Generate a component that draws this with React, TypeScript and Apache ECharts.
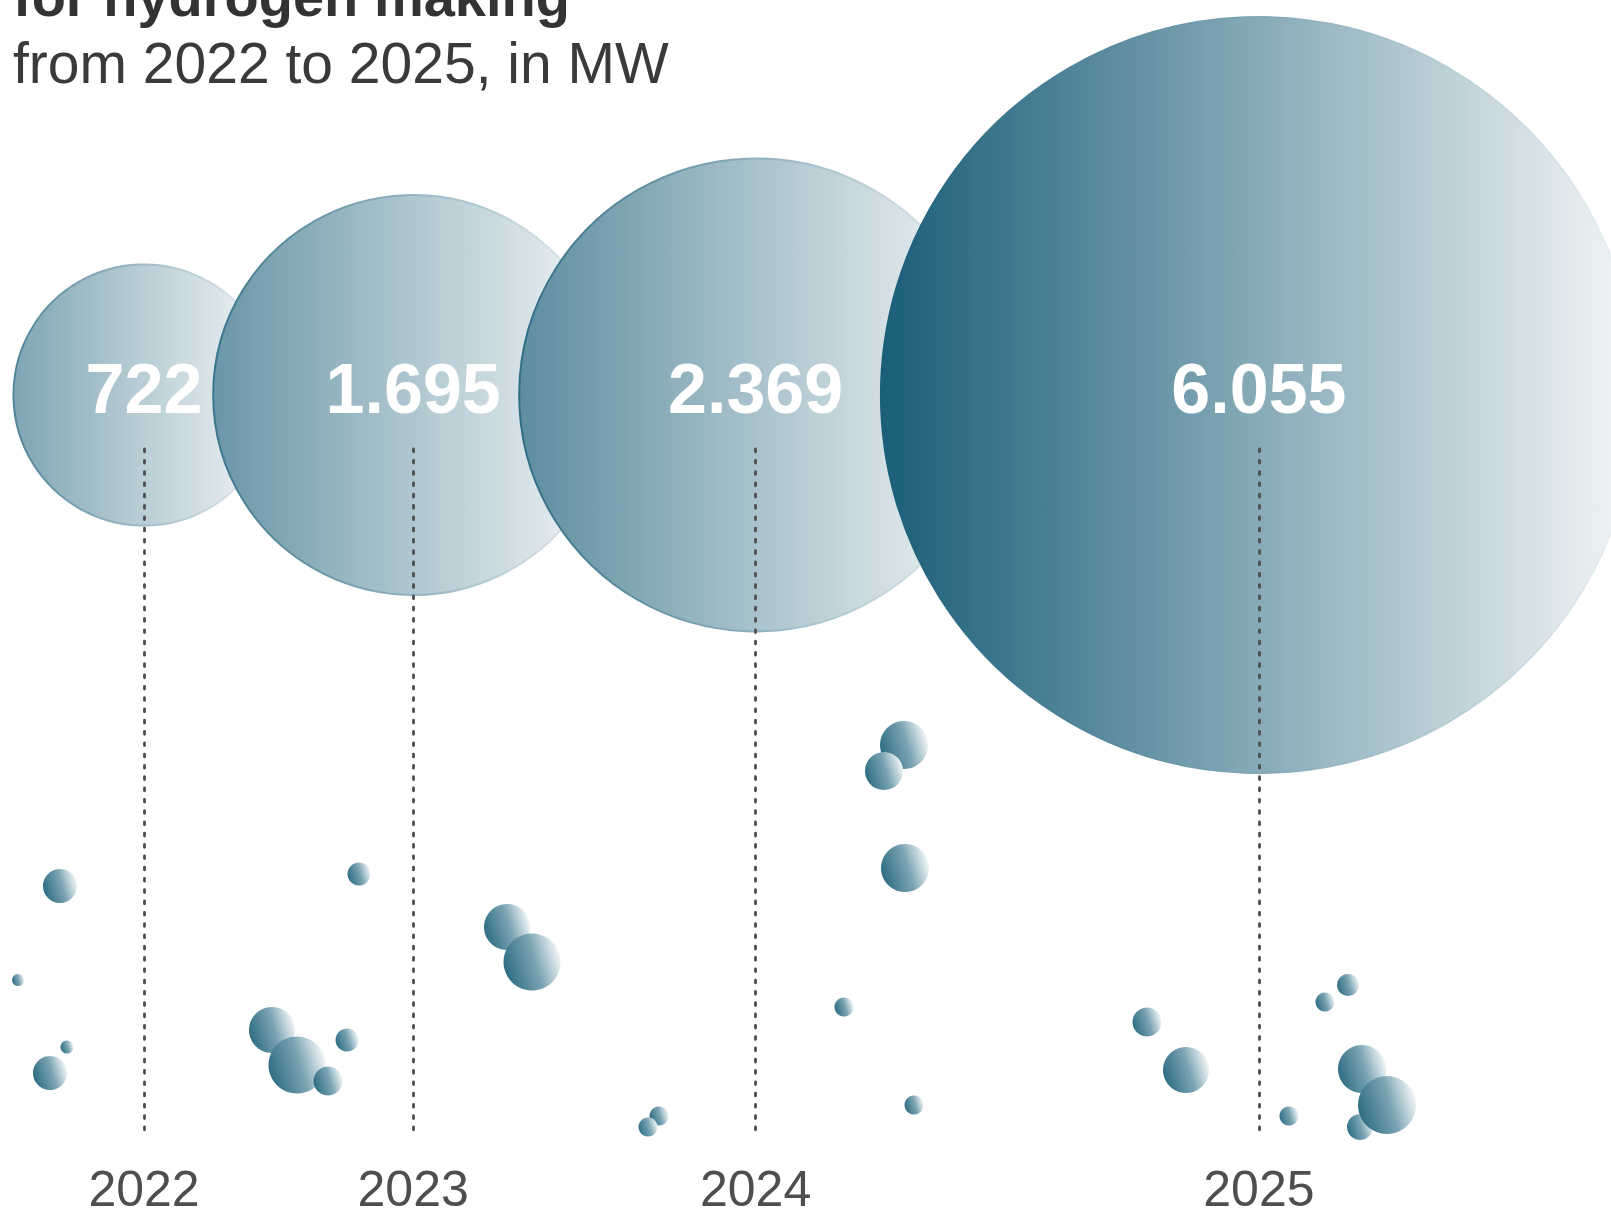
import React, { useEffect, useRef } from "react";
import * as echarts from "echarts";

// ---- data ----
const years = ["2022", "2023", "2024", "2025"];
const capacityMW = [722, 1695, 2369, 6055];

// decorative small bubbles (chart units = px of the 1611x1216 canvas)
const bubbleX = [60, 18, 67, 50, 359, 507, 532, 272, 297, 328, 347, 904, 884, 905, 844, 914, 659, 648, 1147, 1186, 1289, 1348, 1325, 1360, 1362, 1387];
const bubbleY = [886, 980, 1047, 1073, 874, 927, 962, 1030, 1065, 1081, 1040, 745, 771, 868, 1007, 1105, 1116, 1127, 1022, 1070, 1116, 985, 1002, 1127, 1069, 1105];
const bubbleR = [17, 6, 6.5, 17, 11.5, 23, 28.5, 23, 28.5, 14.5, 11.5, 24, 19, 24, 9.5, 9.5, 9.5, 9.5, 14.5, 23, 9.5, 11, 9.5, 13, 24, 29];

const titleText = "for hydrogen making";
const subtitleText = "from 2022 to 2025, in MW";

// ---- layout ----
const W = 1611;
const H = 1216;
const CY = 395;
const R_MAX = 378;
const FIRST_X = 144;
const OVERLAP = 0.47;
const LINE_TOP = 449;
const LINE_BOTTOM = 1132;
const YEAR_Y = 1189;
const BASE = [26, 94, 120];

const maxV = Math.max(...capacityMW);
const radius = (v: number) => R_MAX * Math.sqrt(v / maxV);
const fmt = (v: number) => String(v).replace(/\B(?=(\d{3})+(?!\d))/g, ".");
const tint = (a: number) => {
  const c = BASE.map((b) => Math.round(255 + (b - 255) * a));
  return `rgb(${c[0]},${c[1]},${c[2]})`;
};

export default function App() {
  const ref = useRef<HTMLDivElement>(null);

  useEffect(() => {
    document.body.style.margin = "0";
    const chart = echarts.init(ref.current as HTMLDivElement, null, {
      renderer: "svg",
      width: W,
      height: H,
    });

    const radii = capacityMW.map(radius);
    const xs: number[] = [];
    radii.forEach((r, i) => {
      if (i === 0) xs.push(FIRST_X);
      else xs.push(xs[i - 1] + radii[i - 1] + r - OVERLAP * Math.min(radii[i - 1], r));
    });

    const mainData = capacityMW.map((v, i) => {
      const a = 0.47 + 0.53 * Math.pow(v / maxV, 0.85);
      return {
        name: years[i],
        value: [xs[i], CY, v],
        itemStyle: {
          color: new echarts.graphic.LinearGradient(0, 0, 1, 0, [
            { offset: 0, color: tint(a) },
            { offset: 1, color: tint(0.05) },
          ]),
          borderColor: new echarts.graphic.LinearGradient(0, 0, 1, 0, [
            { offset: 0, color: tint(Math.min(1, a + 0.2)) },
            { offset: 1, color: tint(0.08) },
          ]),
          borderWidth: 2,
        },
      };
    });

    const bubbleColor = new echarts.graphic.LinearGradient(0, 0.65, 1, 0.35, [
      { offset: 0, color: "#2c6b81" },
      { offset: 0.55, color: "#7aa3b2" },
      { offset: 1, color: "#f6f9fa" },
    ]);

    const option = {
      animation: false,
      backgroundColor: "#ffffff",
      grid: { left: 0, right: 0, top: 0, bottom: 0 },
      xAxis: { type: "value", min: 0, max: W, show: false },
      yAxis: { type: "value", min: 0, max: H, inverse: true, show: false },
      graphic: [
        {
          type: "text",
          x: 13,
          y: -4,
          style: {
            text: titleText,
            fontSize: 56,
            fontWeight: "bold",
            fontFamily: "'Liberation Sans', Arial, sans-serif",
            fill: "#333333",
            verticalAlign: "middle",
          },
        },
        {
          type: "text",
          x: 13,
          y: 63,
          style: {
            text: subtitleText,
            fontSize: 57,
            fontFamily: "'Liberation Sans', Arial, sans-serif",
            fill: "#3a3a3a",
            verticalAlign: "middle",
          },
        },
      ],
      series: [
        {
          name: "bubbles",
          type: "scatter",
          z: 1,
          silent: true,
          data: bubbleX.map((x, i) => [x, bubbleY[i], bubbleR[i]]),
          symbolSize: (d: number[]) => d[2] * 2,
          itemStyle: { color: bubbleColor, opacity: 1 },
        },
        {
          name: "capacity",
          type: "scatter",
          z: 2,
          silent: true,
          data: mainData,
          symbolSize: (d: number[]) => radius(d[2]) * 2,
          itemStyle: { opacity: 1 },
          label: {
            show: true,
            position: "inside",
            offset: [0, -6],
            formatter: (p: any) => fmt(p.value[2]),
            color: "#ffffff",
            opacity: 1,
            fontSize: 70,
            fontWeight: "bold",
            fontFamily: "'Liberation Sans', Arial, sans-serif",
          },
        },
        {
          name: "guides",
          type: "lines",
          coordinateSystem: "cartesian2d",
          z: 5,
          silent: true,
          polyline: false,
          data: xs.map((x) => ({ coords: [[x, LINE_TOP], [x, LINE_BOTTOM]] })),
          lineStyle: {
            color: "#4d4d4d",
            width: 2.8,
            type: [2.8, 8.5],
            cap: "round",
            opacity: 1,
            curveness: 0,
          },
        },
        {
          name: "years",
          type: "scatter",
          z: 6,
          silent: true,
          data: xs.map((x, i) => ({ name: years[i], value: [x, YEAR_Y] })),
          symbolSize: 1,
          itemStyle: { color: "rgba(0,0,0,0)" },
          label: {
            show: true,
            position: "inside",
            formatter: "{b}",
            color: "#222222",
            fontSize: 50,
            lineHeight: 44,
            fontFamily: "'Liberation Sans', Arial, sans-serif",
          },
        },
      ],
    };

    chart.setOption(option as any);
    return () => chart.dispose();
  }, []);

  return <div ref={ref} style={{ width: W, height: H }} />;
}
